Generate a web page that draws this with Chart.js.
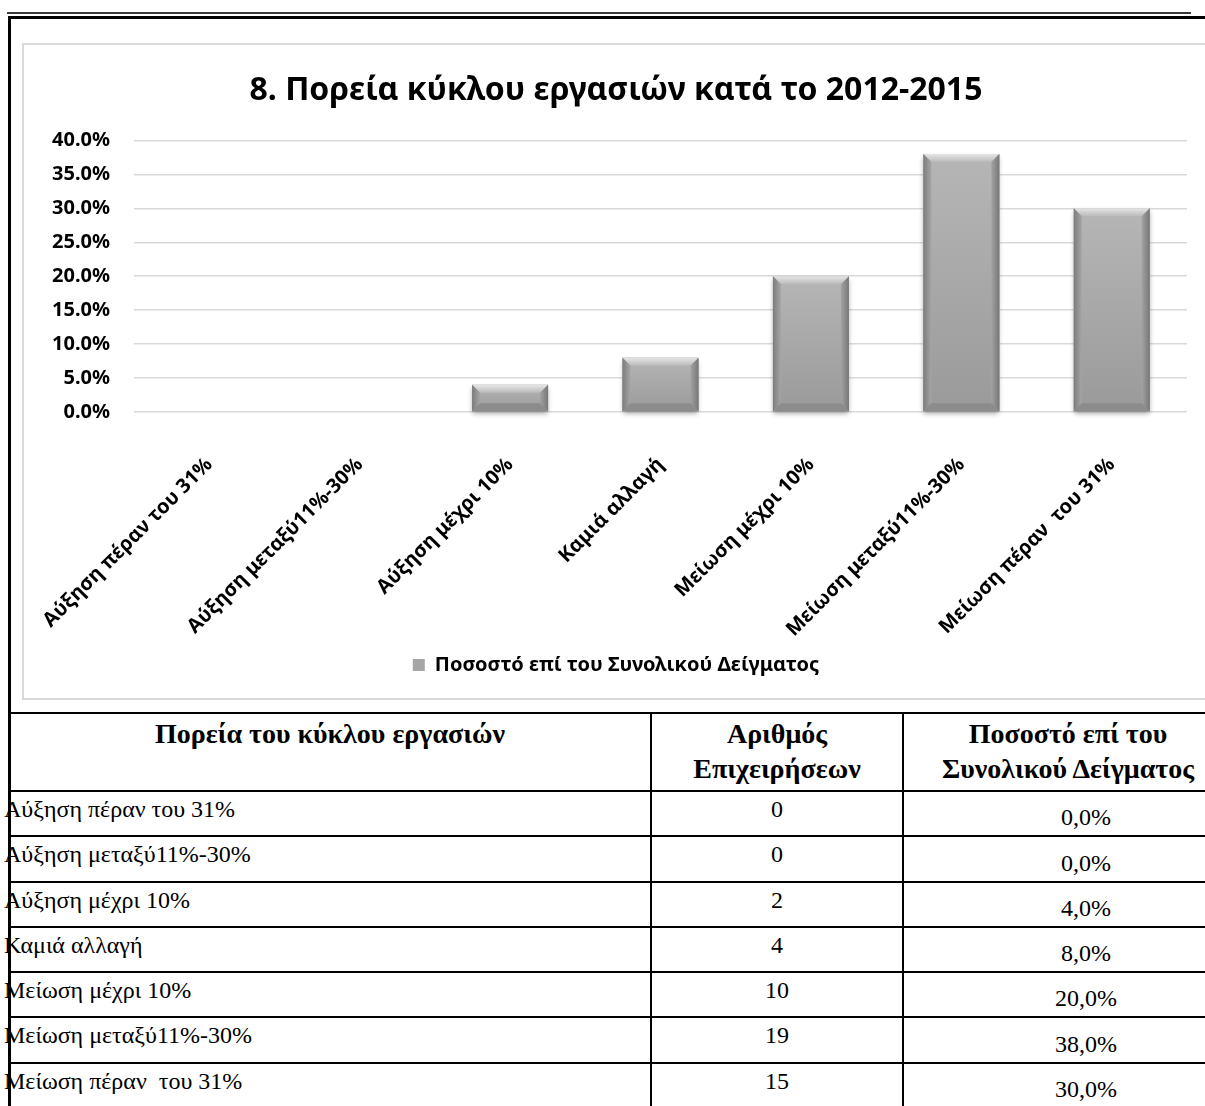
<!DOCTYPE html>
<html>
<head>
<meta charset="utf-8">
<script src="https://cdn.jsdelivr.net/npm/chart.js@4.4.1/dist/chart.umd.min.js"></script>
<style>
  html, body { margin: 0; padding: 0; background: #fff; }
  body { width: 1205px; height: 1106px; overflow: hidden; position: relative; }
  .topdash { position: absolute; left: 7px; top: 12px; width: 1184px; height: 2px; background: #3a3a3a; }
  .frame { position: absolute; left: 8px; top: 16px; width: 1230px; height: 1120px;
           border-left: 3px solid #000; border-top: 3px solid #000; }
  .chartbox { position: absolute; left: 22px; top: 43px; width: 1230px; height: 653px;
              border: 2px solid #d9d9d9; }
  .chartwrap { position: absolute; left: 0; top: 0; width: 1184px; height: 653px; }
  table { position: absolute; left: 8px; top: 712px; border-collapse: collapse;
          font-family: "Liberation Serif", serif; color: #000; table-layout: fixed; width: 1260px; }
  td, th { border: 2px solid #000; padding: 0; }
  th { font-weight: bold; font-size: 28px; line-height: 35px; vertical-align: top; padding-top: 2px; height: 74px; }
  th.last { padding-right: 36px; }
  td { font-size: 24px; height: 39.3px; padding-top: 4px; }
  td.name { text-align: left; vertical-align: top; text-indent: -6px; white-space: pre; }
  td.num { text-align: center; vertical-align: top; }
  td.pct { text-align: center; vertical-align: bottom; padding-top: 0; padding-bottom: 4px; }
</style>
</head>
<body>
<div class="topdash"></div>
<div class="frame"></div>
<div class="chartbox"><div class="chartwrap"><canvas id="turnoverChart"></canvas></div></div>
<table id="dataTable">
  <colgroup><col style="width:642px"><col style="width:252px"><col style="width:366px"></colgroup>
  <thead>
    <tr><th>Πορεία του κύκλου εργασιών</th><th>Αριθμός<br>Επιχειρήσεων</th><th class="last">Ποσοστό επί του<br>Συνολικού Δείγματος</th></tr>
  </thead>
  <tbody id="tableBody"></tbody>
</table>
<script>
// categories and values
const categories = [
    "Αύξηση πέραν του 31%",
    "Αύξηση μεταξύ11%-30%",
    "Αύξηση μέχρι 10%",
    "Καμιά αλλαγή",
    "Μείωση μέχρι 10%",
    "Μείωση μεταξύ11%-30%",
    "Μείωση πέραν  του 31%"
];
const firmCounts = [0, 0, 2, 4, 10, 19, 15];
const shareValues = [0, 0, 0.04, 0.08, 0.20, 0.38, 0.30];
const yTicks = [0, 0.05, 0.10, 0.15, 0.20, 0.25, 0.30, 0.35, 0.40];
const seriesLabel = "Ποσοστό επί του Συνολικού Δείγματος";
const chartTitle = "8. Πορεία κύκλου εργασιών κατά το 2012-2015";

// fill the table
let tbody = document.getElementById("tableBody");
categories.forEach((cat, i) => {
    let tr = document.createElement("tr");
    let pct = (shareValues[i] * 100).toFixed(1).replace(".", ",") + "%";
    tr.innerHTML = '<td class="name"></td><td class="num">' + firmCounts[i] + '</td><td class="pct">' + pct + '</td>';
    tr.firstChild.textContent = cat;
    tbody.appendChild(tr);
});

const chartFont = "'Noto Sans', 'DejaVu Sans', sans-serif";

// draws the bevelled grey look over each bar
const bevelPlugin = {
    id: "bevel",
    afterDatasetsDraw(chart) {
        let ctx = chart.ctx;
        chart.getDatasetMeta(0).data.forEach(bar => {
            let p = bar.getProps(["x", "y", "base", "width"], true);
            let l = p.x - p.width / 2, r = p.x + p.width / 2, t = p.y, b = p.base;
            let h = b - t;
            if (h < 1) return;
            let e = Math.min(8, h / 3);
            ctx.save();
            // body with soft shadow
            ctx.shadowColor = "rgba(0,0,0,0.35)";
            ctx.shadowBlur = 5;
            ctx.shadowOffsetY = 3;
            let g = ctx.createLinearGradient(0, t, 0, b);
            g.addColorStop(0, "#b6b6b6");
            g.addColorStop(1, "#9a9a9a");
            ctx.fillStyle = g;
            ctx.fillRect(l, t, r - l, h);
            ctx.shadowColor = "transparent";
            // top bevel
            let gt = ctx.createLinearGradient(0, t, 0, t + e);
            gt.addColorStop(0, "#e6e6e6");
            gt.addColorStop(1, "#bababa");
            ctx.fillStyle = gt;
            ctx.beginPath();
            ctx.moveTo(l, t); ctx.lineTo(r, t); ctx.lineTo(r - e, t + e); ctx.lineTo(l + e, t + e);
            ctx.closePath(); ctx.fill();
            // left side
            let gl = ctx.createLinearGradient(l, 0, l + e, 0);
            gl.addColorStop(0, "#7c7c7c");
            gl.addColorStop(1, "#a6a6a6");
            ctx.fillStyle = gl;
            ctx.beginPath();
            ctx.moveTo(l, t); ctx.lineTo(l + e, t + e); ctx.lineTo(l + e, b - e); ctx.lineTo(l, b);
            ctx.closePath(); ctx.fill();
            // right side
            let gr = ctx.createLinearGradient(r, 0, r - e, 0);
            gr.addColorStop(0, "#777");
            gr.addColorStop(1, "#a2a2a2");
            ctx.fillStyle = gr;
            ctx.beginPath();
            ctx.moveTo(r, t); ctx.lineTo(r - e, t + e); ctx.lineTo(r - e, b - e); ctx.lineTo(r, b);
            ctx.closePath(); ctx.fill();
            // bottom bevel
            ctx.fillStyle = "#8c8c8c";
            ctx.beginPath();
            ctx.moveTo(l, b); ctx.lineTo(r, b); ctx.lineTo(r - e, b - e); ctx.lineTo(l + e, b - e);
            ctx.closePath(); ctx.fill();
            ctx.restore();
        });
    }
};

function createChart() {
    let ctx = document.getElementById("turnoverChart").getContext("2d");
    new Chart(ctx, {
        type: "bar",
        data: {
            labels: categories,
            datasets: [{
                label: seriesLabel,
                data: shareValues,
                backgroundColor: "#a6a6a6",
                borderColor: "#8c8c8c",
                borderWidth: 0,
                categoryPercentage: 1,
                barPercentage: 0.505
            }]
        },
        options: {
            responsive: true,
            maintainAspectRatio: false,
            animation: false,
            layout: { padding: { left: 21, right: 21, top: 0, bottom: 13 } },
            plugins: {
                title: {
                    display: true,
                    text: chartTitle,
                    color: "#000",
                    font: { family: chartFont, size: 32, weight: "bold" },
                    padding: { top: 27, bottom: 30 }
                },
                legend: {
                    position: "bottom",
                    labels: {
                        color: "#000",
                        boxWidth: 12,
                        boxHeight: 12,
                        padding: 10,
                        font: { family: chartFont, size: 20, weight: "bold" }
                    }
                },
                tooltip: { enabled: false }
            },
            scales: {
                y: {
                    min: 0,
                    max: 0.4,
                    afterFit: s => { s.width = 89; },
                    afterBuildTicks: s => { s.ticks = yTicks.map(v => ({ value: v })); },
                    ticks: {
                        color: "#000",
                        padding: 24,
                        font: { family: chartFont, size: 20, weight: "bold" },
                        callback: v => (v * 100).toFixed(1) + "%"
                    },
                    grid: { color: "#d9d9d9", lineWidth: 1.5, drawTicks: false },
                    border: { display: false }
                },
                x: {
                    afterFit: s => { s.height = 233; s.paddingLeft = 0; s.paddingRight = 0; },
                    ticks: {
                        color: "#000",
                        minRotation: 45,
                        maxRotation: 45,
                        padding: 33,
                        autoSkip: false,
                        font: { family: chartFont, size: 20, weight: "bold" }
                    },
                    grid: { display: false },
                    border: { display: false }
                }
            }
        },
        plugins: [bevelPlugin]
    });
}

window.onload = createChart;
</script>
</body>
</html>
